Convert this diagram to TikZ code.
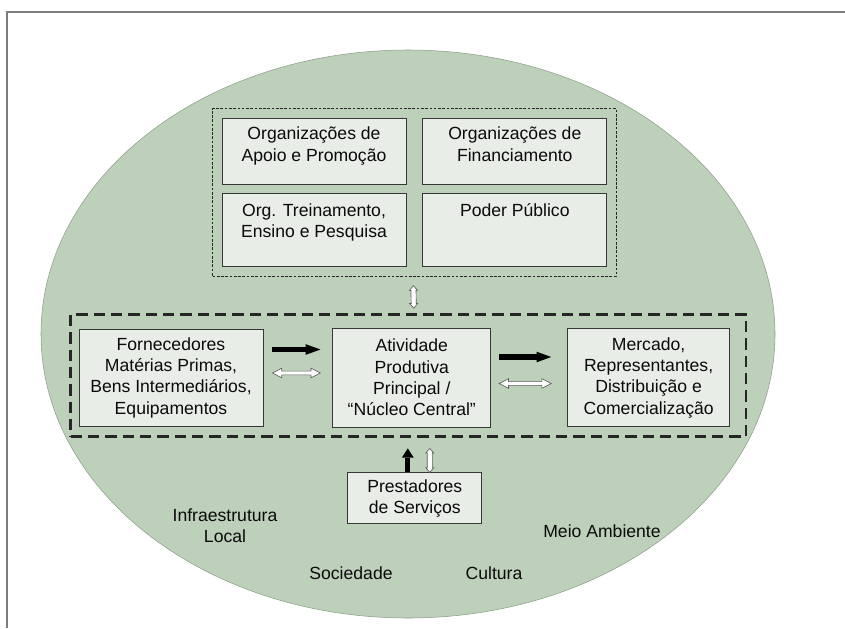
\documentclass[tikz,border=0pt]{standalone}
\usepackage{fontspec}
\setmainfont{Liberation Sans}
\usepackage{tikz}
\usetikzlibrary{positioning}
\usetikzlibrary {arrows.meta}
\usetikzlibrary{fit}
\usetikzlibrary{calc}
\definecolor{sage}{RGB}{189,209,186}
\definecolor{boxfill}{RGB}{233,237,231}
\definecolor{boxline}{RGB}{55,55,55}
\definecolor{framegray}{RGB}{125,125,125}
\definecolor{hollowgray}{RGB}{95,95,95}
\definecolor{inktext}{RGB}{10,10,10}
\tikzset{orgbox/.style={rectangle,draw=boxline,fill=boxfill,line width=0.6pt,
inner sep=2pt,minimum width=138pt,minimum height=49.5pt,align=center,
execute at end node={\rule[-#1]{0pt}{0pt}}}}
\tikzset{chainbox/.style={rectangle,draw=boxline,fill=boxfill,line width=0.6pt,
inner sep=2pt,minimum height=73.5pt,align=center}}
\tikzset{dotgroup/.style={rectangle,draw=black!85,line width=0.75pt,
dash pattern=on 2pt off 1.2pt,inner sep=6.75pt}}
\tikzset{coregroup/.style={rectangle,draw=black!85,line width=2.2pt,
dash pattern=on 8.5pt off 4.5pt,inner sep=0pt}}
\tikzset{fatarrow/.style={line width=3.8pt,-{Triangle[length=11pt,width=8pt,line width=0pt]}}}
\tikzset{hollow/.style n args={3}{draw=hollowgray,fill=white,line width=0.5pt,
to path={(\tikztostart) coordinate (hA) (\tikztotarget) coordinate (hB)
(hA) -- ($(hA)!#1!(hB)!#2!90:(hB)$) -- ($(hA)!#1!(hB)!#3!90:(hB)$)
-- ($(hB)!#1!(hA)!#3!-90:(hA)$) -- ($(hB)!#1!(hA)!#2!-90:(hA)$)
-- (hB) -- ($(hB)!#1!(hA)!#2!90:(hA)$) -- ($(hB)!#1!(hA)!#3!90:(hA)$)
-- ($(hA)!#1!(hB)!#3!-90:(hB)$) -- ($(hA)!#1!(hB)!#2!-90:(hB)$) -- cycle}}}
\tikzset{freetext/.style={align=center}}

\begin{document}
\begin{tikzpicture}[x=0.75pt,y=-0.75pt,text=inktext,font=\fontsize{13.2}{16}\selectfont]

        \useasboundingbox (0,0) rectangle (845,628);
        \draw[framegray,line width=1.1pt] (7,628) -- (7,12) -- (845,12);
        \filldraw[fill=sage,draw=sage!75!black,line width=0.4pt] (408,334) ellipse [x radius=367, y radius=284];

        \node[orgbox=10.5pt] (apoio) at (314,151) {Organizações de\\Apoio e Promoção};
        \node[orgbox=10.5pt] (financ) [right=12pt of apoio] {Organizações de\\Financiamento};
        \node[orgbox=14.25pt,minimum height=54.75pt] (trein) [below=6.75pt of apoio] {Org. Treinamento,\\Ensino e Pesquisa};
        \node[orgbox=14.25pt,minimum height=54.75pt] (poder) [below=6.75pt of financ] {Poder Público\\};
        \node[dotgroup,fit=(apoio)(financ)(trein)(poder)] (orggroup) {};

        \node[chainbox,minimum width=138pt,minimum height=72.75pt] (forn) at (171,377.5) {Fornecedores\\Matérias Primas,\\Bens Intermediários,\\Equipamentos};
        \node[chainbox,minimum width=118.5pt,minimum height=74.25pt] (ativ) [right=51.75pt of forn] {Atividade\\Produtiva\\Principal /\\“Núcleo Central”};
        \node[chainbox,minimum width=121.5pt] (merc) [right=57pt of ativ] {Mercado,\\Representantes,\\Distribuição e\\Comercialização};
        \node[coregroup,fit={([shift={(-8,-14)}]forn.north west) ([shift={(16,10)}]merc.south east)}] (core) {};

        \node[chainbox,minimum width=100.5pt,minimum height=38.25pt] (prest) [below=33.75pt of ativ,xshift=2.25pt] {Prestadores\\de Serviços};

        \draw[fatarrow] ([shift={(9,-28)}]forn.east) -- ([shift={(-12,-28)}]ativ.west);
        \draw[hollow={7pt}{3.6pt}{1.4pt}] ([shift={(9,-4.5)}]forn.east) to ([shift={(-12,-4.5)}]ativ.west);
        \draw[fatarrow] ([shift={(8,-20.5)}]ativ.east) -- ([shift={(-16,-20.5)}]merc.west);
        \draw[hollow={7pt}{3.6pt}{1.4pt}] ([shift={(8,6)}]ativ.east) to ([shift={(-16,6)}]merc.west);

        \draw[fatarrow,-{Triangle[length=7pt,width=9pt,line width=0pt]}] ([shift={(-7,0)}]prest.north) -- ([shift={(-4,21)}]ativ.south);
        \draw[hollow={3.5pt}{3pt}{1.9pt}] ([shift={(15,0)}]prest.north) to ([shift={(18,21)}]ativ.south);
        \draw[hollow={3.5pt}{3pt}{1.9pt}] ([shift={(-1,9)}]orggroup.south) to ([shift={(5.5,-5)}]core.north);

        \node[freetext] (infra) at (225,526) {Infraestrutura\\Local};
        \node[freetext] (socied) at (351,573) {Sociedade};
        \node[freetext] (cultura) at (494,573) {Cultura};
        \node[freetext] (meio) at (602,531) {Meio Ambiente};

    \end{tikzpicture}
\end{document}
